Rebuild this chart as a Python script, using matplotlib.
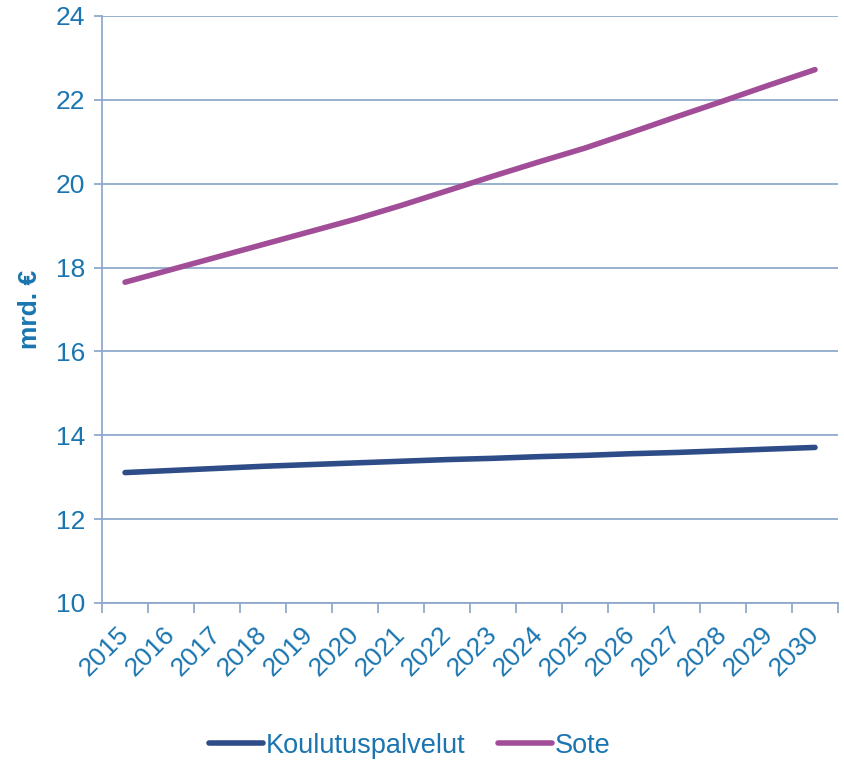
import numpy as np
import matplotlib
matplotlib.use('Agg')
import matplotlib.pyplot as plt

plt.rcParams['font.family'] = ['Liberation Sans', 'DejaVu Sans']

years = [str(y) for y in range(2015, 2031)]
koulutus = [13.11, 13.16, 13.21, 13.26, 13.30, 13.34, 13.38, 13.42,
            13.45, 13.49, 13.52, 13.56, 13.59, 13.63, 13.67, 13.71]
sote = [17.65, 17.95, 18.25, 18.55, 18.85, 19.15, 19.48, 19.83,
        20.18, 20.52, 20.85, 21.22, 21.60, 21.97, 22.35, 22.72]

text_c = '#1a75b0'
axis_c = '#8eaacb'

fig = plt.figure(figsize=(8.44, 7.6), dpi=100)
ax = fig.add_axes([0.1209, 0.2066, 0.872, 0.7724])

x = np.arange(len(years))
ax.plot(x, koulutus, color='#2e4c87', lw=4, solid_capstyle='round', label='Koulutuspalvelut')
ax.plot(x, sote, color='#a14d97', lw=4, solid_capstyle='round', label='Sote')

ax.set_xlim(-0.5, len(years) - 0.5)
ax.set_ylim(10, 24)
ax.set_yticks(range(10, 25, 2))
ax.yaxis.grid(True, color=axis_c, lw=1.3)
ax.set_axisbelow(True)

ax.set_xticks(np.arange(-0.5, len(years), 1))
ax.set_xticklabels([])
ax.set_xticks(x, minor=True)
ax.set_xticklabels(years, minor=True, rotation=45, ha='right', va='center',
                   rotation_mode='anchor', fontsize=19, color=text_c)
ax.tick_params(axis='x', which='minor', length=0, pad=20)
ax.tick_params(axis='x', which='major', length=7, width=1.3, color=axis_c)
ax.tick_params(axis='y', length=6, width=1.3, color=axis_c, labelsize=19,
               labelcolor=text_c, pad=6)

for s in ['top', 'right']:
    ax.spines[s].set_visible(False)
for s in ['left', 'bottom']:
    ax.spines[s].set_color(axis_c)
    ax.spines[s].set_linewidth(1.3)

ax.set_ylabel('mrd. €', fontsize=19, fontweight='bold', color=text_c, labelpad=10)

fig.legend(loc='center', bbox_to_anchor=(0.485, 0.019), ncol=2, frameon=False,
           fontsize=19.5, handlelength=2.0, handletextpad=0.1, columnspacing=1.2,
           labelcolor=text_c)

fig.savefig('out.png', dpi=100)
